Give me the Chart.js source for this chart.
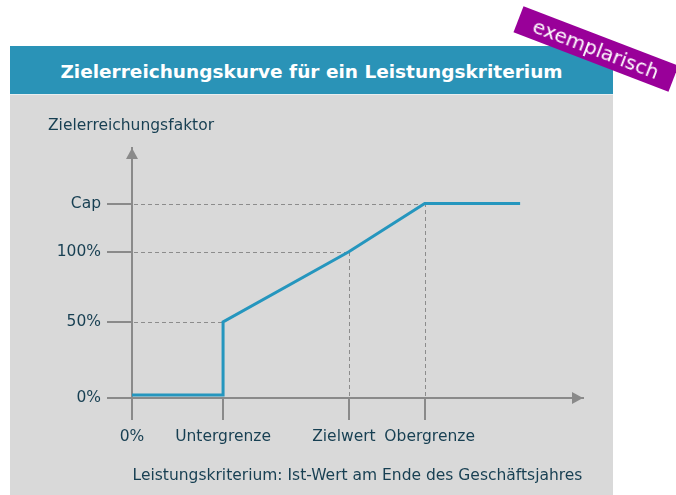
<!DOCTYPE html>
<html lang="de">
<head>
<meta charset="utf-8">
<title>Zielerreichungskurve</title>
<script src="https://cdn.jsdelivr.net/npm/chart.js@4.4.1/dist/chart.umd.min.js"></script>
<style>
  html, body { margin: 0; padding: 0; background: #fff; }
  body { width: 676px; height: 495px; position: relative; overflow: hidden; font-family: "DejaVu Sans", Verdana, sans-serif; }
  #panel { position: absolute; left: 10px; top: 46px; width: 603px; height: 449px; background: #d9d9d9; }
  #head { position: absolute; left: 10px; top: 46px; width: 603px; height: 48px; background: #2a93b7;
          border-bottom: 1px solid #e8eef0; color: #fff; font-weight: bold; font-size: 18.5px;
          line-height: 51px; text-align: center; }
  #badge { position: absolute; left: 513px; top: 35px; width: 166px; height: 28px; background: #990099;
           color: #fff; font-size: 20px; line-height: 28px; text-align: center;
           transform: rotate(21deg); z-index: 3; }
  #wrap { position: absolute; left: 0; top: 0; width: 676px; height: 495px; z-index: 2; }
</style>
</head>
<body>
<div id="panel"></div>
<div id="head">Zielerreichungskurve für ein Leistungskriterium</div>
<div id="badge">exemplarisch</div>
<div id="wrap"><canvas id="kurve"></canvas></div>
<script>
// Achsen (schematisch, Werte in Pixel-treuen Einheiten)
var xTickValues = [0, 42, 100, 135];
var xTickLabels = ['0%', 'Untergrenze', 'Zielwert  ', '  Obergrenze'];
var yTickValues = [0, 52, 100, 133];
var yTickLabels = ['0%', '50%', '100%', 'Cap'];
var xMax = 208;
var yMax = 171;

// Kurve
var curveX = [0, 42, 42, 100, 135, 179];
var curveY = [2, 2, 52, 100, 133, 133];

var textColor = '#173f52';
var axisColor = '#8a8a8a';
var fontSize = 15.5;

var points = curveX.map(function (x, i) { return { x: x, y: curveY[i] }; });

var extras = {
  id: 'extras',
  beforeDatasetsDraw: function (chart) {
    var ctx = chart.ctx, xs = chart.scales.x, ys = chart.scales.y;
    ctx.save();
    ctx.strokeStyle = '#8c8c8c';
    ctx.lineWidth = 1;
    ctx.setLineDash([4, 3]);
    // horizontale Hilfslinien bis zur Kurve
    [2, 3, 4].forEach(function (i) {
      var py = Math.round(ys.getPixelForValue(curveY[i])) + 0.5;
      ctx.beginPath();
      ctx.moveTo(xs.getPixelForValue(0) + 2, py);
      ctx.lineTo(xs.getPixelForValue(curveX[i]), py);
      ctx.stroke();
    });
    // senkrechte Hilfslinien
    [3, 4].forEach(function (i) {
      var px = Math.round(xs.getPixelForValue(curveX[i])) + 0.5;
      ctx.beginPath();
      ctx.moveTo(px, ys.getPixelForValue(0) - 2);
      ctx.lineTo(px, ys.getPixelForValue(curveY[i]));
      ctx.stroke();
    });
    ctx.restore();
  },
  afterDraw: function (chart) {
    var ctx = chart.ctx, xs = chart.scales.x, ys = chart.scales.y;
    var x0 = xs.getPixelForValue(0), y0 = ys.getPixelForValue(0);
    var xe = xs.getPixelForValue(xMax), ye = ys.getPixelForValue(yMax);
    ctx.save();
    ctx.fillStyle = axisColor;
    ctx.beginPath();
    ctx.moveTo(x0, ye);
    ctx.lineTo(x0 - 6, ye + 11);
    ctx.lineTo(x0 + 6, ye + 11);
    ctx.closePath();
    ctx.fill();
    ctx.beginPath();
    ctx.moveTo(xe, y0);
    ctx.lineTo(xe - 11, y0 - 6);
    ctx.lineTo(xe - 11, y0 + 6);
    ctx.closePath();
    ctx.fill();
    // Achsentitel oben links
    ctx.fillStyle = textColor;
    ctx.font = fontSize + 'px "DejaVu Sans"';
    ctx.textAlign = 'left';
    ctx.textBaseline = 'middle';
    ctx.fillText('Zielerreichungsfaktor', 48, 126);
    ctx.restore();
  }
};

new Chart(document.getElementById('kurve'), {
  type: 'line',
  data: {
    datasets: [{
      data: points,
      borderColor: '#2596be',
      borderWidth: 3,
      pointRadius: 0,
      tension: 0,
      fill: false,
      borderJoinStyle: 'miter'
    }]
  },
  options: {
    responsive: true,
    maintainAspectRatio: false,
    animation: false,
    layout: { padding: { left: 10, right: 93, top: 148, bottom: 0 } },
    plugins: { legend: { display: false }, tooltip: { enabled: false } },
    scales: {
      x: {
        type: 'linear',
        min: 0,
        max: xMax,
        afterBuildTicks: function (s) { s.ticks = xTickValues.map(function (v) { return { value: v }; }); },
        afterFit: function (s) { s.height = 97; },
        ticks: {
          autoSkip: false, maxRotation: 0, padding: 8, color: textColor,
          font: { family: 'DejaVu Sans', size: fontSize },
          callback: function (v, i) { return xTickLabels[i]; }
        },
        grid: { drawOnChartArea: false, tickLength: 22, color: axisColor, lineWidth: 2 },
        border: { color: axisColor, width: 2 },
        title: {
          display: true,
          text: 'Leistungskriterium: Ist-Wert am Ende des Geschäftsjahres',
          color: textColor,
          font: { family: 'DejaVu Sans', size: fontSize },
          padding: { top: 0, bottom: 10 }
        }
      },
      y: {
        type: 'linear',
        min: 0,
        max: yMax,
        afterBuildTicks: function (s) { s.ticks = yTickValues.map(function (v) { return { value: v }; }); },
        afterFit: function (s) { s.width = 122; },
        ticks: {
          padding: 6, color: textColor,
          font: { family: 'DejaVu Sans', size: fontSize },
          callback: function (v, i) { return yTickLabels[i]; }
        },
        grid: { drawOnChartArea: false, tickLength: 25, color: axisColor, lineWidth: 2 },
        border: { color: axisColor, width: 2 }
      }
    }
  },
  plugins: [extras]
});
</script>
</body>
</html>
